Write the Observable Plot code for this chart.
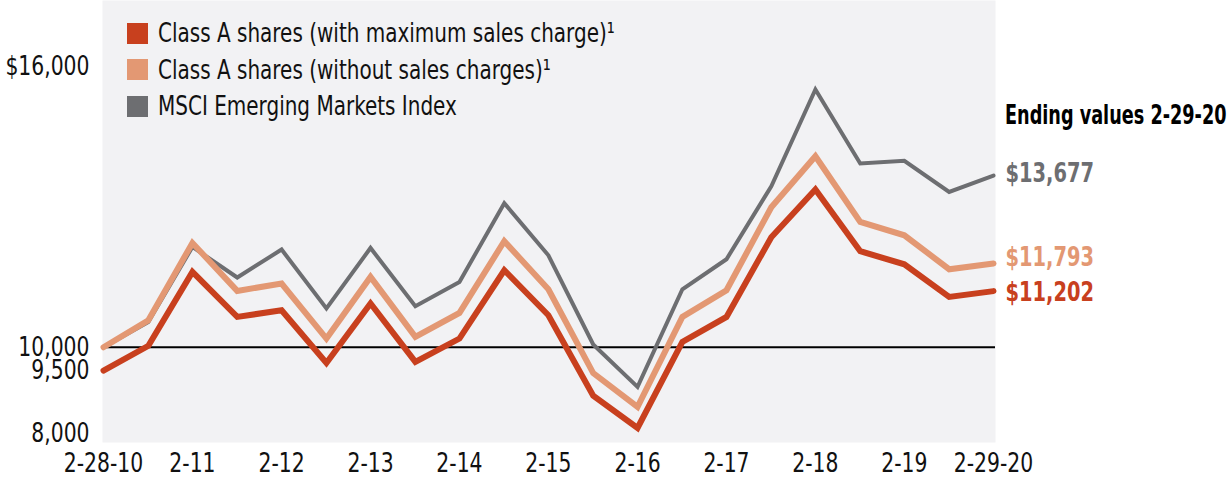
<!DOCTYPE html>
<html>
<head>
<meta charset="utf-8">
<script src="https://cdn.jsdelivr.net/npm/d3@7"></script>
<script src="https://cdn.jsdelivr.net/npm/@observablehq/plot@0.6"></script>
<style>
  html, body { margin: 0; padding: 0; background: #fff; }
  #wrap { position: relative; width: 1230px; height: 483px; font-family: "DejaVu Sans Condensed", "Liberation Sans Narrow", sans-serif; }
  #legend { position: absolute; left: 127px; top: 15px; font-size: 26px; color: #111; }
  .item { display: flex; align-items: center; height: 36.5px; }
  .sw { width: 21px; height: 21px; margin-right: 10px; flex: none; }
  .lt { display: inline-block; transform: scaleX(0.855); transform-origin: left center; white-space: nowrap; }
  #ending { position: absolute; left: 1005px; top: 100px; font-size: 26px; font-weight: bold; color: #000; white-space: nowrap; transform: scaleX(0.755); transform-origin: left center; }
</style>
</head>
<body>
<div id="wrap"></div>
<script>
const dates = ["2010-02-28","2010-08-31","2011-02-28","2011-08-31","2012-02-29","2012-08-31","2013-02-28","2013-08-31","2014-02-28","2014-08-31","2015-02-28","2015-08-31","2016-02-29","2016-08-31","2017-02-28","2017-08-31","2018-02-28","2018-08-31","2019-02-28","2019-08-31","2020-02-29"];
const seriesNames = ["Class A shares (with maximum sales charge)\u00b9", "Class A shares (without sales charges)\u00b9", "MSCI Emerging Markets Index"];
const colors = ["#c8401e", "#e39873", "#6d6e71"];
const maxCharge = [9500, 10030, 11612, 10649, 10792, 9664, 10936, 9686, 10186, 11649, 10685, 8960, 8272, 10114, 10649, 12355, 13380, 12056, 11777, 11077, 11202];
const noCharge = [10000, 10578, 12233, 11206, 11364, 10186, 11505, 10221, 10735, 12270, 11242, 9447, 8722, 10649, 11220, 12998, 14090, 12683, 12398, 11670, 11793];
const msci = [10000, 10542, 12148, 11493, 12092, 10829, 12126, 10878, 11398, 13084, 11970, 10060, 9150, 11242, 11884, 13448, 15520, 13934, 13991, 13326, 13677];
const yTicks = [9500, 10000, 16000];
const yTicksLow = [8000];
const xTickLabels = ["2-28-10","2-11","2-12","2-13","2-14","2-15","2-16","2-17","2-18","2-19","2-29-20"];
const endingTitle = "Ending values 2-29-20";

const parse = d3.utcParse("%Y-%m-%d");
const allValues = [maxCharge, noCharge, msci];
const rows = (vals, k) => vals.map((v, i) => ({date: parse(dates[i]), value: v, k}));
const data = allValues.map((v, k) => rows(v, k));
const lastRows = allValues.map((v, k) => ({date: parse(dates[dates.length - 1]), value: v[v.length - 1], k}));
const xTicks = dates.filter((d, i) => i % 2 === 0).map(parse);
const fmtY = d => (d === 16000 ? "$" : "") + d3.format(",")(d);
const fmtEnd = d => "$" + d3.format(",")(d);

const font = '"DejaVu Sans Condensed", "Liberation Sans Narrow", sans-serif';
const plot = Plot.plot({
  width: 1230,
  height: 483,
  marginLeft: 103,
  marginRight: 237,
  marginTop: 0,
  marginBottom: 41,
  style: {fontFamily: font, fontSize: "26px", color: "#111", background: "transparent", overflow: "visible"},
  x: {type: "utc", domain: [parse(dates[0]), parse(dates[dates.length - 1])]},
  y: {domain: [7960, 17425]},
  marks: [
    Plot.frame({fill: "#f2f2f4", stroke: null, insetLeft: -1, insetRight: -2}),
    Plot.axisX({ticks: xTicks, tickFormat: (d, i) => xTickLabels[i], tickSize: 0, tickPadding: 11, label: null, fontSize: 26}),
    Plot.axisY({ticks: yTicks, tickFormat: fmtY, tickSize: 0, tickPadding: 14, label: null, fontSize: 26}),
    Plot.axisY({ticks: yTicksLow, tickFormat: fmtY, tickSize: 0, tickPadding: 14, label: null, fontSize: 26, dy: -7}),
    Plot.ruleY([10000], {stroke: "#000", strokeWidth: 2, insetLeft: -1, insetRight: -2}),
    Plot.line(data[2], {x: "date", y: "value", stroke: colors[2], strokeWidth: 4, strokeLinejoin: "miter", strokeMiterlimit: 4}),
    Plot.line(data[1], {x: "date", y: "value", stroke: colors[1], strokeWidth: 6, strokeLinejoin: "miter", strokeMiterlimit: 4}),
    Plot.line(data[0], {x: "date", y: "value", stroke: colors[0], strokeWidth: 6, strokeLinejoin: "miter", strokeMiterlimit: 4}),
    Plot.text([lastRows[2]], {x: "date", y: "value", text: d => fmtEnd(d.value), fill: colors[2], fontWeight: "bold", fontSize: 26, textAnchor: "start", dx: 12, dy: -2, className: "endval"}),
    Plot.text([lastRows[1]], {x: "date", y: "value", text: d => fmtEnd(d.value), fill: colors[1], fontWeight: "bold", fontSize: 26, textAnchor: "start", dx: 12, dy: -6, className: "endval"}),
    Plot.text([lastRows[0]], {x: "date", y: "value", text: d => fmtEnd(d.value), fill: colors[0], fontWeight: "bold", fontSize: 26, textAnchor: "start", dx: 12, dy: 2, className: "endval"})
  ]
});

const wrap = document.getElementById("wrap");
wrap.appendChild(plot);

// Condense text glyphs to mimic the narrow typeface of the original
plot.querySelectorAll("text").forEach(t => {
  const bold = t.closest(".endval") !== null;
  const len = t.getComputedTextLength();
  if (len > 0) {
    t.setAttribute("textLength", (len * (bold ? 0.83 : 0.87)).toFixed(1));
    t.setAttribute("lengthAdjust", "spacingAndGlyphs");
  }
});

const legend = document.createElement("div");
legend.id = "legend";
seriesNames.forEach((name, k) => {
  const item = document.createElement("div");
  item.className = "item";
  const sw = document.createElement("span");
  sw.className = "sw";
  sw.style.background = colors[k];
  const t = document.createElement("span");
  t.className = "lt";
  t.textContent = name;
  item.appendChild(sw);
  item.appendChild(t);
  legend.appendChild(item);
});
wrap.appendChild(legend);
const ending = document.createElement("div");
ending.id = "ending";
ending.textContent = endingTitle;
wrap.appendChild(ending);
</script>
</body>
</html>
